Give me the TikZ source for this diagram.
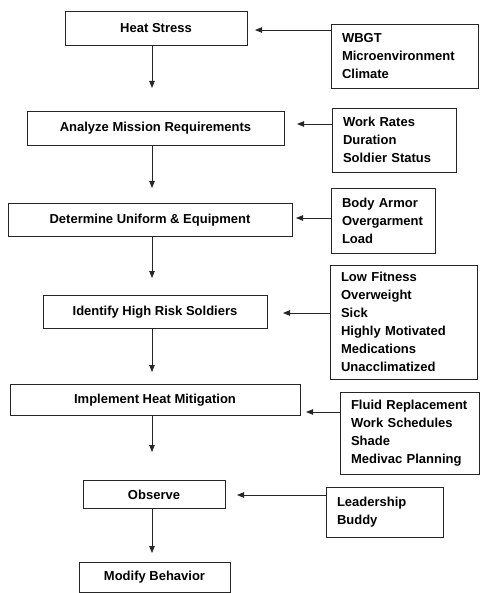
\documentclass[tikz,border=0pt]{standalone}
\usepackage{fontspec}
\setmainfont{Liberation Sans}
\usetikzlibrary{arrows.meta}
\begin{document}
\begin{tikzpicture}[x=1pt,y=-1pt,
  txt/.style={font=\bfseries\fontsize{13}{18}\selectfont},
  mainbox/.style={txt, draw=black!85, line width=0.8pt, inner sep=0pt, align=center},
  sidebox/.style={txt, draw=black!85, line width=0.8pt, inner xsep=11pt, inner ysep=0pt, align=left},
  arr/.style={draw=black!85, line width=0.8pt, -{Triangle[length=7pt,width=5.5pt]}}
]
\useasboundingbox (0,0) rectangle (479,593);
% main column
\node[mainbox, minimum width=182pt, minimum height=34pt] (HS) at (156,28.5) {Heat Stress};
\node[mainbox, minimum width=257pt, minimum height=34pt] (AM) at (155.5,128.5) {Analyze Mission Requirements};
\node[mainbox, minimum width=284pt, minimum height=33pt] (DU) at (150,220) {Determine Uniform \& Equipment};
\node[mainbox, minimum width=224pt, minimum height=33pt] (IH) at (155,312) {Identify High Risk Soldiers};
\node[mainbox, minimum width=290pt, minimum height=31pt] (IM) at (155,400) {Implement Heat Mitigation};
\node[mainbox, minimum width=142pt, minimum height=28pt] (OB) at (154,494.5) {Observe};
\node[mainbox, minimum width=151pt, minimum height=30pt] (MB) at (154.5,577.5) {Modify Behavior};
% side boxes
\node[sidebox, minimum width=147pt, text width=125pt, minimum height=64pt] (S1) at (404.5,56) {WBGT\\Microenvironment\\Climate};
\node[sidebox, minimum width=124pt, text width=102pt, minimum height=64pt] (S2) at (394,140) {Work Rates\\Duration\\Soldier Status};
\node[sidebox, minimum width=104pt, text width=82pt, minimum height=65pt] (S3) at (383,220.5) {Body Armor\\Overgarment\\Load};
\node[sidebox, minimum width=147pt, text width=125pt, minimum height=114pt] (S4) at (403.5,322) {Low Fitness\\Overweight\\Sick\\Highly Motivated\\Medications\\Unacclimatized};
\node[sidebox, minimum width=139pt, text width=117pt, minimum height=82pt] (S5) at (409.5,433) {Fluid Replacement\\Work Schedules\\Shade\\Medivac Planning};
\node[sidebox, minimum width=117pt, text width=95pt, minimum height=50pt] (S6) at (384.5,512) {Leadership\\Buddy};
% arrow end points
\coordinate (h1) at (255,30);
\coordinate (h2) at (297,124);
\coordinate (h3) at (296,218);
\coordinate (h4) at (283,313);
\coordinate (h5) at (306,412);
\coordinate (h6) at (237,495);
\coordinate (v1) at (152,88);
\coordinate (v2) at (152,188);
\coordinate (v3) at (152,278);
\coordinate (v4) at (152,372);
\coordinate (v5) at (152,452);
\coordinate (v6) at (152,553);
% horizontal arrows
\draw[arr] (h1 -| S1.west) -- (h1);
\draw[arr] (h2 -| S2.west) -- (h2);
\draw[arr] (h3 -| S3.west) -- (h3);
\draw[arr] (h4 -| S4.west) -- (h4);
\draw[arr] (h5 -| S5.west) -- (h5);
\draw[arr] (h6 -| S6.west) -- (h6);
% vertical arrows
\draw[arr] (v1 |- HS.south) -- (v1);
\draw[arr] (v2 |- AM.south) -- (v2);
\draw[arr] (v3 |- DU.south) -- (v3);
\draw[arr] (v4 |- IH.south) -- (v4);
\draw[arr] (v5 |- IM.south) -- (v5);
\draw[arr] (v6 |- OB.south) -- (v6);
\end{tikzpicture}
\end{document}
